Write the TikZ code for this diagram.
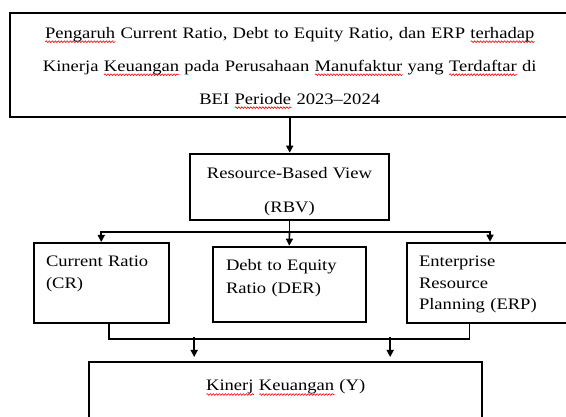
\documentclass[tikz,border=0pt]{standalone}
\usepackage{fontspec}
\setmainfont{Liberation Serif}[FakeStretch=1.16]
\usepackage{xcolor}
\usetikzlibrary{arrows.meta,positioning,decorations.pathmorphing}
\newsavebox{\katabox}
\newcommand{\salah}[1]{\sbox{\katabox}{#1}\rlap{\tikz[baseline=0pt]\draw[red,line width=0.6pt,decorate,
  decoration={snake,segment length=3pt,amplitude=0.9pt}] (0pt,-3.5pt) -- (\wd\katabox,-3.5pt);}\usebox{\katabox}}
\tikzstyle{kotak}=[draw,line width=2pt,anchor=north west,inner ysep=0pt]
\tikzstyle{tengah}=[kotak,inner xsep=0pt,align=center]
\tikzstyle{kiri}=[kotak,inner xsep=12.5pt,align=left]
\tikzstyle{garis}=[line width=1.6pt]
\tikzstyle{panah}=[garis,-{Triangle[length=7pt,width=7pt]}]

\begin{document}
\begin{tikzpicture}[x=1pt,y=-1pt,font=\fontsize{16}{22.5}\selectfont]
\path[use as bounding box] (0,0) rectangle (566,417);

\node[tengah,text width=560pt,text height=25.2pt,text depth=78.5pt,
  font=\fontsize{16}{33}\selectfont] (judul) at (8.7,12)
  {\salah{Pengaruh} Current Ratio, Debt to Equity Ratio, dan ERP \salah{terhadap}\\
   Kinerja \salah{Keuangan} pada Perusahaan \salah{Manufaktur} yang \salah{Terdaftar} di\\
   BEI \salah{Periode} 2023--2024};

\node[tengah,text width=199pt,text height=25pt,text depth=41.5pt,
  font=\fontsize{16}{34}\selectfont] (rbv) at (189,152.7)
  {Resource-Based View\\(RBV)};

\node[kiri,text width=110.5pt,text height=23.5pt,text depth=56.5pt] (cr) at (32.5,242)
  {Current Ratio\\(CR)};
\node[kiri,inner xsep=13pt,text width=126.6pt,text height=24.1pt,text depth=50.9pt] (der) at (212,245.7)
  {Debt to Equity\\Ratio (DER)};
\node[kiri,text width=142pt,text height=23.8pt,text depth=56.8pt,
  font=\fontsize{16}{21.7}\selectfont] (erp) at (405.5,241.7)
  {Enterprise\\Resource\\Planning (ERP)};

\node[tengah,text width=392.6pt,text height=29pt,text depth=50pt] (kinerja) at (88.4,361)
  {\salah{Kinerj} \salah{Keuangan} (Y)};

\coordinate (cabang) at ([yshift=-11pt]rbv.south);

\draw[panah] (judul.south) -- (judul.south |- rbv.north);
\draw[garis] (rbv.south) -- (cabang);
\draw[panah] (cabang) -| (cr.north);
\draw[panah] (cabang) -- (der.north);
\draw[panah] (cabang) -| (erp.north);

\draw[garis] ([xshift=7.5pt]cr.south) |- ([xshift=-20.5pt,yshift=-15pt]erp.south)
  -- ([xshift=-20.5pt]erp.south);
\draw[panah] ([xshift=-91.5pt,yshift=24pt]kinerja.north) -- ([xshift=-91.5pt,yshift=4pt]kinerja.north);
\draw[panah] ([xshift=104.5pt,yshift=24pt]kinerja.north) -- ([xshift=104.5pt,yshift=4pt]kinerja.north);
\end{tikzpicture}
\end{document}
